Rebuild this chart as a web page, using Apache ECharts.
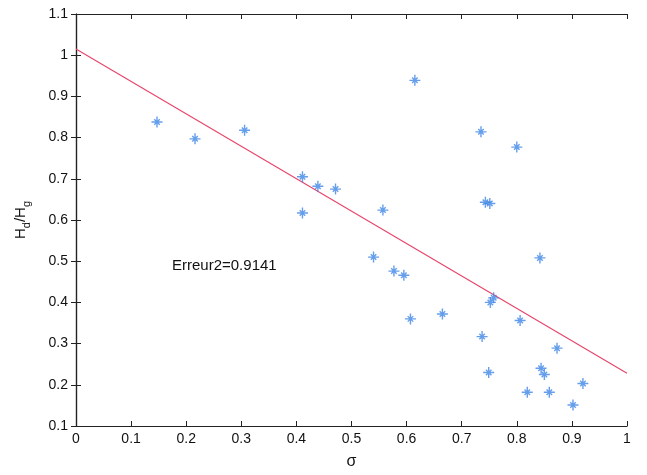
<!DOCTYPE html>
<html><head><meta charset="utf-8">
<script src="https://cdn.jsdelivr.net/npm/echarts@6/dist/echarts.min.js"></script>
<style>html,body{margin:0;padding:0;background:#fff}#c{width:647px;height:475px}</style>
</head><body><div id="c"></div>
<script>
const sigma = [0.147,0.216,0.306,0.411,0.411,0.439,0.471,0.557,0.615,0.735,0.743,0.751,0.800,
  0.540,0.577,0.595,0.607,0.665,0.842,0.752,0.758,0.806,0.737,0.873,0.844,0.850,0.749,0.819,0.859,0.920,0.902];
const ratio = [0.838,0.797,0.818,0.705,0.617,0.682,0.675,0.624,0.939,0.814,0.643,0.640,0.777,
  0.510,0.476,0.466,0.360,0.372,0.508,0.400,0.411,0.356,0.317,0.289,0.240,0.225,0.230,0.182,0.182,0.203,0.151];
const fitX = [0, 1];
const fitY = [1.015, 0.228];
const errText = 'Erreur2=0.9141';

const pts = sigma.map((s,i)=>[s, ratio[i]]);
const fit = fitX.map((x,i)=>[x, fitY[i]]);
const font = 'Liberation Sans, Arial, sans-serif';
const star = 'path://M0,-10L0,10M-10,0L10,0M-5,-5L5,5M-5,5L5,-5';
const chart = echarts.init(document.getElementById('c'), null, {renderer:'canvas'});
const axLine = {show:true, lineStyle:{color:'#222', width:1.2}};
const tick = {show:true, inside:true, length:5, lineStyle:{color:'#222'}};
chart.setOption({
  animation:false,
  grid:{left:76, right:20, top:14, bottom:48, containLabel:false},
  xAxis:[{type:'value', min:0, max:1, interval:0.1, position:'bottom',
    axisLine:axLine, axisTick:tick, splitLine:{show:false},
    axisLabel:{color:'#111', fontSize:14, fontFamily:font, margin:6,
      formatter:v=>String(+v.toFixed(1))},
    name:'σ', nameLocation:'middle', nameGap:28, nameTextStyle:{color:'#111', fontSize:16, fontFamily:font}},
   {type:'value', min:0, max:1, interval:0.1, position:'top',
    axisLine:axLine, axisTick:tick, axisLabel:{show:false}, splitLine:{show:false}}],
  yAxis:[{type:'value', min:0.1, max:1.1, interval:0.1, position:'left',
    axisLine:axLine, axisTick:tick, splitLine:{show:false},
    axisLabel:{color:'#111', fontSize:14, fontFamily:font, margin:8,
      formatter:v=>String(+v.toFixed(1))},
    name:'{m|H}{s|d}{m|/H}{s|g}', nameLocation:'middle', nameGap:48, nameRotate:90,
    nameTextStyle:{rich:{m:{fontSize:15, fontFamily:font, color:'#111'}, s:{fontSize:11, fontFamily:font, color:'#111', verticalAlign:'bottom', padding:[0,0,-4,0]}}}},
   {type:'value', min:0.1, max:1.1, interval:0.1, position:'right',
    axisLine:axLine, axisTick:tick, axisLabel:{show:false}, splitLine:{show:false}}],
  series:[
    {type:'line', data:fit, symbol:'none', lineStyle:{color:'#e8466c', width:1.2}, z:2},
    {type:'scatter', data:pts, symbol:star, symbolSize:11,
      itemStyle:{color:'transparent', borderColor:'#3f86e6', borderWidth:1.4}, z:3}
  ],
  graphic:[{type:'text', left:172, top:258, style:{text:errText, fontSize:15, fontFamily:font, fill:'#111'}}]
});
</script></body></html>
